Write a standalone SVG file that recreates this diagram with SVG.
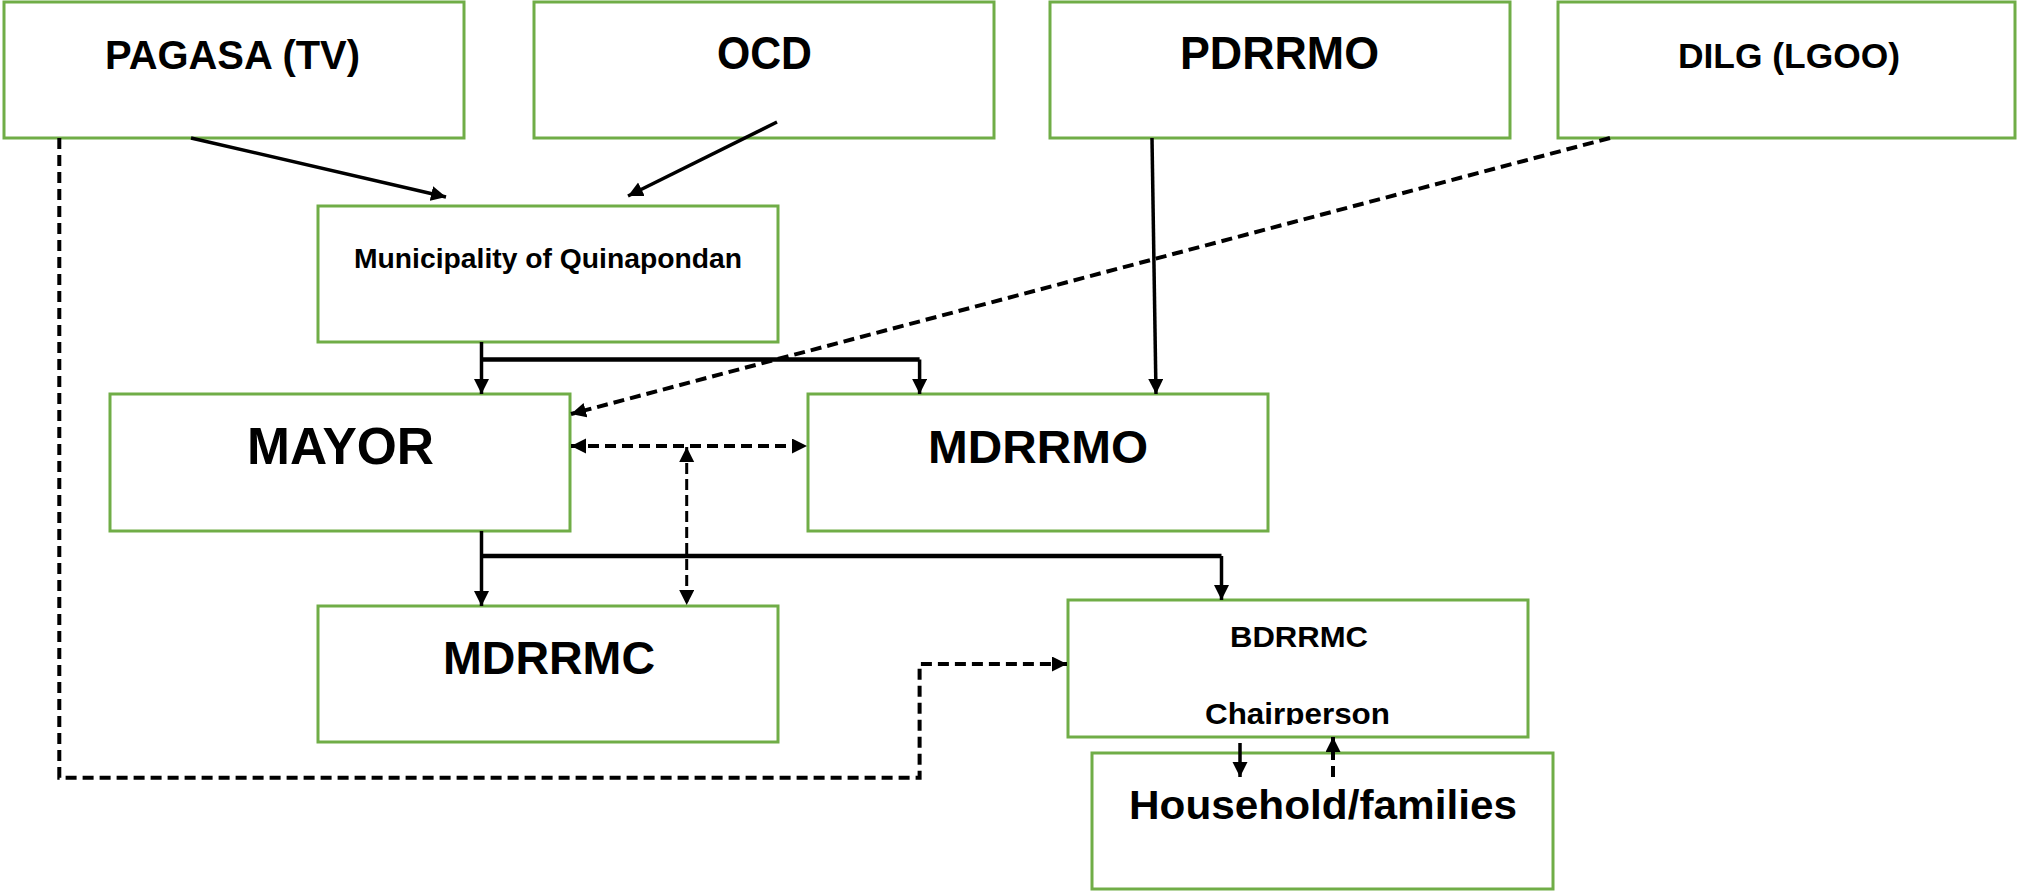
<svg xmlns="http://www.w3.org/2000/svg" width="2017" height="891" viewBox="0 0 2017 891">
<style>
.box{fill:#fff;stroke:#70AD47;stroke-width:3}
.t{font-family:"Liberation Sans",Arial,sans-serif;font-weight:bold;fill:#000}
.s{fill:none;stroke:#000;stroke-width:3.5}
.d{fill:none;stroke:#000;stroke-width:4;stroke-dasharray:11 6}
.dt{fill:none;stroke:#000;stroke-width:3;stroke-dasharray:11 5}
</style>
<defs>
<marker id="ah" markerUnits="userSpaceOnUse" markerWidth="16" markerHeight="16" refX="15" refY="7.5" orient="auto-start-reverse" viewBox="0 0 16 16">
<path d="M0,0 L15,7.5 L0,15 z" fill="#000"/>
</marker>
<clipPath id="clipChair"><rect x="1068" y="600" width="460" height="125"/></clipPath>
</defs>
<rect width="2017" height="891" fill="#fff"/>

<g id="node-pagasa"><rect class="box" x="4" y="2" width="460" height="136"/><text class="t" x="105" y="69" font-size="41" textLength="255" lengthAdjust="spacingAndGlyphs">PAGASA (TV)</text></g>
<g id="node-ocd"><rect class="box" x="534" y="2" width="460" height="136"/><text class="t" x="717" y="69" font-size="46" textLength="95" lengthAdjust="spacingAndGlyphs">OCD</text></g>
<g id="node-pdrrmo"><rect class="box" x="1050" y="2" width="460" height="136"/><text class="t" x="1180" y="69" font-size="46" textLength="199" lengthAdjust="spacingAndGlyphs">PDRRMO</text></g>
<g id="node-dilg"><rect class="box" x="1558" y="2" width="457" height="136"/><text class="t" x="1678" y="68" font-size="35" textLength="222" lengthAdjust="spacingAndGlyphs">DILG (LGOO)</text></g>
<g id="node-municipality"><rect class="box" x="318" y="206" width="460" height="136"/><text class="t" x="354" y="268" font-size="27" textLength="388" lengthAdjust="spacingAndGlyphs">Municipality of Quinapondan</text></g>
<g id="node-mayor"><rect class="box" x="110" y="394" width="460" height="137"/><text class="t" x="247" y="464" font-size="52" textLength="187" lengthAdjust="spacingAndGlyphs">MAYOR</text></g>
<g id="node-mdrrmo"><rect class="box" x="808" y="394" width="460" height="137"/><text class="t" x="928" y="463" font-size="46" textLength="220" lengthAdjust="spacingAndGlyphs">MDRRMO</text></g>
<g id="node-mdrrmc"><rect class="box" x="318" y="606" width="460" height="136"/><text class="t" x="443" y="674" font-size="46" textLength="212" lengthAdjust="spacingAndGlyphs">MDRRMC</text></g>
<g id="node-bdrrmc"><rect class="box" x="1068" y="600" width="460" height="137"/><text class="t" x="1230" y="647" font-size="30" textLength="138" lengthAdjust="spacingAndGlyphs">BDRRMC</text><text class="t" x="1205" y="724" font-size="30" textLength="185" lengthAdjust="spacingAndGlyphs" clip-path="url(#clipChair)">Chairperson</text></g>
<g id="node-household"><rect class="box" x="1092" y="753" width="461" height="136"/><text class="t" x="1129" y="819" font-size="40" textLength="388" lengthAdjust="spacingAndGlyphs">Household/families</text></g>

<g id="connectors">
<path class="s" d="M191,138 L446,197" marker-end="url(#ah)"/>
<path class="s" d="M777,122 L628,196" marker-end="url(#ah)"/>
<path class="s" d="M1152,138 L1156,394" marker-end="url(#ah)"/>
<path class="s" d="M481.5,342 L481.5,394" marker-end="url(#ah)"/>
<path class="s" style="stroke-width:4.5" d="M481.5,359.5 L919.6,359.5"/>
<path class="s" d="M919.6,359.5 L919.6,394" marker-end="url(#ah)"/>
<path class="d" d="M1610,138 L571,414" marker-end="url(#ah)"/>
<path class="d" d="M571,446 L807,446" marker-start="url(#ah)" marker-end="url(#ah)"/>
<path class="dt" d="M686.7,447 L686.7,605" marker-start="url(#ah)" marker-end="url(#ah)"/>
<path class="s" d="M481.5,531 L481.5,606" marker-end="url(#ah)"/>
<path class="s" style="stroke-width:4.5" d="M481.5,556 L1221.5,556"/>
<path class="s" d="M1221.5,556 L1221.5,600" marker-end="url(#ah)"/>
<path class="d" d="M59.3,138 L59.3,777.7 L919.6,777.7 L919.6,664 L1067,664" marker-end="url(#ah)"/>
<path class="s" d="M1240,743 L1240,777" marker-end="url(#ah)"/>
<path class="d" d="M1333,777 L1333,737" marker-end="url(#ah)"/>
</g>
</svg>
